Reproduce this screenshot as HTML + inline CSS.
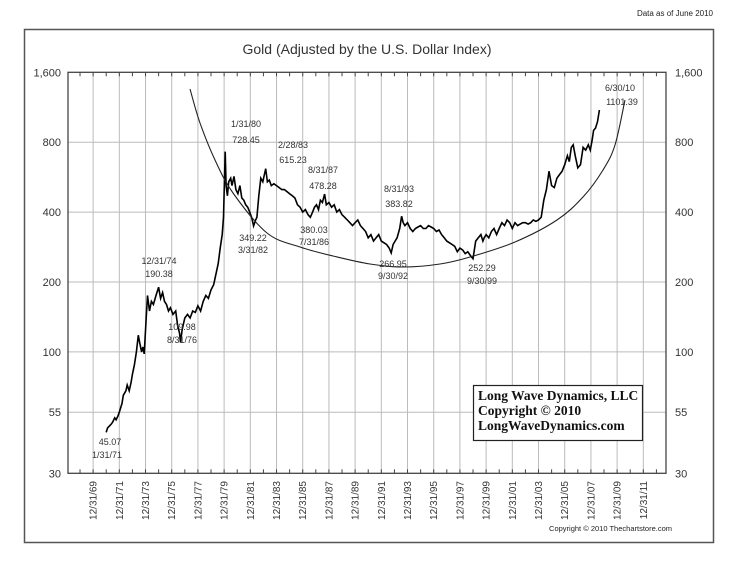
<!DOCTYPE html>
<html><head><meta charset="utf-8"><style>
body{margin:0;background:#fff;width:740px;height:568px;overflow:hidden;font-family:"Liberation Sans",sans-serif}
svg text{font-family:"Liberation Sans",sans-serif}
</style></head><body>
<svg id="chart" width="740" height="568" xmlns="http://www.w3.org/2000/svg">
<text x="713" y="16" font-size="8" text-anchor="end" fill="#222">Data as of June 2010</text>
<rect x="24.5" y="29.5" width="689" height="513" fill="none" stroke="#555" stroke-width="1.5"/>
<text x="367" y="54" font-size="14" text-anchor="middle" fill="#333">Gold (Adjusted by the U.S. Dollar Index)</text>
<g id="grid"></g><g id="series"></g><g id="annot"></g>
<g>
<rect x="473.5" y="385.5" width="169" height="55" fill="#fff" stroke="#222" stroke-width="1.2"/>
<text x="478" y="400" font-weight="bold" font-size="13.5" fill="#111" style="font-family:'Liberation Serif',serif">Long Wave Dynamics, LLC</text>
<text x="478" y="415" font-weight="bold" font-size="13.5" fill="#111" style="font-family:'Liberation Serif',serif">Copyright © 2010</text>
<text x="478" y="430" font-weight="bold" font-size="13.5" fill="#111" style="font-family:'Liberation Serif',serif">LongWaveDynamics.com</text>
</g>
<text x="672" y="531" font-size="7.5" text-anchor="end" fill="#222">Copyright © 2010 Thechartstore.com</text>
</svg>
<script>
const yTicks=[1600,800,400,200,100,55,30];
const yTickLabels=["1,600","800","400","200","100","55","30"];
const xTickYears=[1969,1971,1973,1975,1977,1979,1981,1983,1985,1987,1989,1991,1993,1995,1997,1999,2001,2003,2005,2007,2009,2011];
const dates=[1971.0,1971.1,1971.25,1971.4,1971.5,1971.65,1971.75,1971.9,1972.0,1972.2,1972.3,1972.5,1972.6,1972.75,1972.9,1973.0,1973.15,1973.3,1973.45,1973.55,1973.7,1973.8,1973.9,1974.05,1974.15,1974.3,1974.45,1974.6,1974.8,1975.0,1975.15,1975.3,1975.45,1975.6,1975.75,1975.9,1976.1,1976.3,1976.45,1976.6,1976.67,1976.8,1977.0,1977.2,1977.4,1977.6,1977.8,1978.0,1978.2,1978.4,1978.6,1978.8,1979.0,1979.2,1979.4,1979.55,1979.7,1979.85,1979.95,1980.08,1980.15,1980.25,1980.35,1980.5,1980.6,1980.75,1980.9,1981.05,1981.2,1981.35,1981.5,1981.65,1981.8,1981.95,1982.1,1982.25,1982.4,1982.5,1982.65,1982.8,1982.95,1983.17,1983.3,1983.45,1983.6,1983.8,1984.0,1984.2,1984.4,1984.6,1984.8,1985.0,1985.2,1985.4,1985.6,1985.8,1986.0,1986.2,1986.4,1986.58,1986.75,1986.9,1987.05,1987.2,1987.35,1987.5,1987.67,1987.8,1988.0,1988.2,1988.4,1988.6,1988.8,1989.0,1989.2,1989.4,1989.6,1989.8,1990.0,1990.2,1990.4,1990.6,1990.8,1991.0,1991.2,1991.4,1991.6,1991.8,1992.0,1992.2,1992.4,1992.6,1992.75,1992.9,1993.05,1993.2,1993.4,1993.55,1993.67,1993.8,1994.0,1994.2,1994.4,1994.6,1994.8,1995.0,1995.2,1995.4,1995.6,1995.8,1996.0,1996.2,1996.4,1996.6,1996.8,1997.0,1997.2,1997.4,1997.6,1997.8,1998.0,1998.2,1998.4,1998.6,1998.8,1999.0,1999.2,1999.4,1999.6,1999.75,1999.85,2000.0,2000.2,2000.4,2000.6,2000.8,2001.0,2001.2,2001.4,2001.6,2001.8,2002.0,2002.2,2002.4,2002.6,2002.8,2003.0,2003.2,2003.4,2003.6,2003.8,2004.0,2004.2,2004.4,2004.6,2004.8,2005.0,2005.2,2005.4,2005.6,2005.8,2006.0,2006.2,2006.35,2006.5,2006.65,2006.8,2007.0,2007.2,2007.4,2007.6,2007.8,2007.95,2008.1,2008.2,2008.35,2008.5,2008.65,2008.8,2008.95,2009.1,2009.25,2009.4,2009.55,2009.7,2009.85,2010.0,2010.15,2010.3,2010.5];
const values=[45,47,48,49,50,52,51,53,55,60,65,68,72,68,74,80,88,100,118,110,100,105,98,140,175,150,165,160,175,190,170,180,165,160,150,155,145,150,130,120,110,125,140,145,140,150,148,158,150,165,175,170,185,195,220,240,280,320,380,728,520,470,540,560,520,570,500,480,520,460,450,430,420,400,380,349,370,380,470,560,540,615,540,550,520,530,520,510,500,500,490,480,470,460,430,420,400,410,390,380,400,420,430,410,450,440,478,430,440,420,430,400,410,390,380,370,360,350,360,370,350,340,330,310,320,300,310,320,300,295,290,280,267,290,300,310,340,384,360,350,360,340,330,340,345,350,340,340,350,345,340,330,335,320,310,300,295,290,285,270,280,275,265,270,260,252,300,310,320,300,310,320,310,330,340,320,340,360,350,370,360,340,360,350,355,360,360,355,360,370,365,370,380,450,500,600,520,510,560,580,600,640,700,660,760,780,700,620,640,760,740,780,740,820,900,920,980,1101];
const L=68,R=666,T=72.3,B=473.3;
const x=d=>93+13.1*(d-1969.99);
const y=v=>T+69.9*Math.log2(1600/v);
const NS="http://www.w3.org/2000/svg";
function mk(tag,attrs,parent,txt){const e=document.createElementNS(NS,tag);for(const k in attrs)e.setAttribute(k,attrs[k]);if(txt!==undefined)e.textContent=txt;parent.appendChild(e);return e;}
const g=document.getElementById('grid');
yTicks.forEach((v,i)=>{
 const yy=y(v);
 if(i>0&&i<yTicks.length-1){const l=mk('line',{x1:L,x2:R,y1:yy,y2:yy,stroke:'#bbb','stroke-width':1},g);
 
 }
 const t1=mk('text',{x:61,y:yy+4,'font-size':11,'text-anchor':'end',fill:'#333'},g,yTickLabels[i]);
 
 
 const t2=mk('text',{x:675,y:yy+4,'font-size':11,fill:'#333'},g,yTickLabels[i]);
 
 
});
xTickYears.forEach(yr=>{
 const xx=x(yr+0.999);
 const l=mk('line',{x1:xx,x2:xx,y1:T,y2:B,stroke:'#bbb','stroke-width':1},g);
 
 
 const lbl='12/31/'+String(yr%100).padStart(2,'0');
 const t=mk('text',{x:0,y:0,'font-size':10,'text-anchor':'end',fill:'#333',transform:`translate(${xx+3.5},481) rotate(-90)`},g,lbl);
 
 
});
for(let yr=1967;yr<=2012;yr++){const xx=x(yr+0.999);if(xx<L||xx>R)continue;
 mk('line',{x1:xx,x2:xx,y1:T,y2:T+4,stroke:'#444'},g);mk('line',{x1:xx,x2:xx,y1:B,y2:B-4,stroke:'#444'},g);}
const ax=mk('rect',{x:L,y:T,width:R-L,height:B-T,fill:'none',stroke:'#444','stroke-width':1.3},g);


const s=document.getElementById('series');
const p=mk('path',{d:dates.map((d,i)=>(i?'L':'M')+x(d).toFixed(1)+','+y(values[i]).toFixed(1)).join(''),fill:'none',stroke:'#000','stroke-width':1.6,'stroke-linejoin':'miter'},s);


// saucer arc (decorative trend curve), smooth Catmull-Rom through guide points
const arcPts=[[190,89],[200,123],[215,160],[233,193],[267,233],[300,247],[333,256],[370,264],[403,267],[440,264],[470,257],[515,242],[557,220],[583,197],[603,170],[615,145],[625,100]];
let ad='M'+arcPts[0].join(',');
for(let i=0;i<arcPts.length-1;i++){const p0=arcPts[Math.max(0,i-1)],p1=arcPts[i],p2=arcPts[i+1],p3=arcPts[Math.min(arcPts.length-1,i+2)];
 const c1=[p1[0]+(p2[0]-p0[0])/6,p1[1]+(p2[1]-p0[1])/6],c2=[p2[0]-(p3[0]-p1[0])/6,p2[1]-(p3[1]-p1[1])/6];
 ad+=`C${c1[0].toFixed(1)},${c1[1].toFixed(1)} ${c2[0].toFixed(1)},${c2[1].toFixed(1)} ${p2[0]},${p2[1]}`;}
const arc=mk('path',{d:ad,fill:'none',stroke:'#222','stroke-width':1.1},s);


const ann=[["1/31/80",246,127],["728.45",246,143],["2/28/83",293,148],["615.23",293,163],["8/31/87",323,173],["478.28",323,189],["8/31/93",399,192],["383.82",399,207],["6/30/10",620,91],["1101.39",622,105],["12/31/74",159,264],["190.38",159,277],["109.98",182,330],["8/31/76",182,343],["349.22",253,241],["3/31/82",253,253],["380.03",314,233],["7/31/86",314,245],["266.95",393,267],["9/30/92",393,279],["252.29",482,271],["9/30/99",482,284],["45.07",110,445],["1/31/71",107,458]];
const a=document.getElementById('annot');
ann.forEach(([t,xx,yy])=>{const e=mk('text',{x:xx,y:yy,'font-size':9,'text-anchor':'middle',fill:'#333'},a,t);
 
 });
</script>
</body></html>
